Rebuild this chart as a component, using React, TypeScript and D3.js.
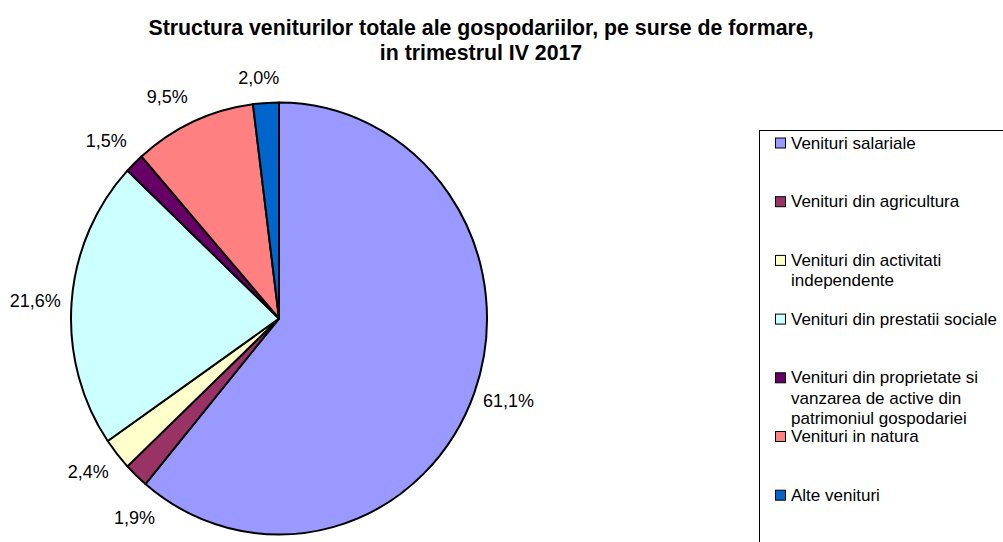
import React, { useEffect } from "react";
import * as d3 from "d3";

const titleLines = [
  "Structura veniturilor totale ale gospodariilor, pe surse de formare,",
  "in trimestrul IV 2017",
];

const categories = [
  "Venituri salariale",
  "Venituri din agricultura",
  "Venituri din activitati independente",
  "Venituri din prestatii sociale",
  "Venituri din proprietate si vanzarea de active din patrimoniul gospodariei",
  "Venituri in natura",
  "Alte venituri",
];

const legendLines = [
  ["Venituri salariale"],
  ["Venituri din agricultura"],
  ["Venituri din activitati", "independente"],
  ["Venituri din prestatii sociale"],
  ["Venituri din proprietate si", "vanzarea de active din", "patrimoniul gospodariei"],
  ["Venituri in natura"],
  ["Alte venituri"],
];

const values = [61.1, 1.9, 2.4, 21.6, 1.5, 9.5, 2.0];

const colors = ["#9999FF", "#993366", "#FFFFCC", "#CCFFFF", "#660066", "#FF8080", "#0066CC"];

// small label nudges (Excel moves some labels to avoid overlaps)
const labelNudge: [number, number][] = [
  [-3, 1],
  [22, 26],
  [-2, 3],
  [3, 1],
  [-4, -6],
  [-12, -4],
  [-5, -2],
];

const W = 1003;
const H = 542;
const cx = 279;
const cy = 318.5;
const ry = 216;
const rx = 208;

export default function App() {
  useEffect(() => {
    document.body.style.margin = "0";
  }, []);

  const pie = d3
    .pie<number>()
    .sort(null)
    .value((d) => d)
    .startAngle(0)
    .endAngle(2 * Math.PI);
  const arcs = pie(values);
  const arc = d3.arc<d3.PieArcDatum<number>>().innerRadius(0).outerRadius(ry);
  const sx = rx / ry;
  const fmt = (v: number) => v.toFixed(1).replace(".", ",") + "%";

  const g = 14;
  const labelFont = 18;

  const legendX = 759;
  const legendY = 130;
  const legendStep = 58.7;
  const legendLineH = 20.5;
  const legendFirst = 143;

  return (
    <svg
      width={W}
      height={H}
      style={{ position: "absolute", left: 0, top: 0, background: "#fff" }}
      fontFamily="'Liberation Sans', Arial, sans-serif"
    >
      <rect x={0} y={0} width={W} height={H} fill="#fff" />
      <g fontWeight="bold" fontSize={21.3} textAnchor="middle" fill="#000">
        {titleLines.map((t, i) => (
          <text key={i} x={481} y={34.5 + i * 25}>
            {t}
          </text>
        ))}
      </g>
      <g transform={`translate(${cx},${cy}) scale(${sx},1)`}>
        {arcs.map((a, i) => (
          <path
            key={i}
            d={arc(a) || ""}
            fill={colors[i]}
            stroke="#000"
            strokeWidth={2}
            vectorEffect="non-scaling-stroke"
            strokeLinejoin="round"
          />
        ))}
      </g>
      <g fontSize={labelFont} fill="#000">
        {arcs.map((a, i) => {
          const th = (a.startAngle + a.endAngle) / 2;
          const s = Math.sin(th);
          const c = Math.cos(th);
          const txt = fmt(values[i]);
          const w = txt.length * 10.2;
          const x = cx + (rx + g) * s + (w / 2) * s + labelNudge[i][0];
          const y = cy - (ry + g) * c - 9 * c + labelNudge[i][1];
          return (
            <text key={i} x={x} y={y} textAnchor="middle" dominantBaseline="central">
              {txt}
            </text>
          );
        })}
      </g>
      <rect
        x={legendX + 0.5}
        y={legendY + 0.5}
        width={W}
        height={H}
        fill="#fff"
        stroke="#000"
        strokeWidth={1}
      />
      <g fontSize={17} fill="#000">
        {legendLines.map((lines, i) => {
          const y0 = legendFirst + i * legendStep;
          return (
            <g key={i}>
              <title>{categories[i]}</title>
              <rect
                x={775.5}
                y={y0 - 5}
                width={10}
                height={10}
                fill={colors[i]}
                stroke="#000"
                strokeWidth={1}
              />
              {lines.map((l, j) => (
                <text key={j} x={791} y={y0 + j * legendLineH} dominantBaseline="central">
                  {l}
                </text>
              ))}
            </g>
          );
        })}
      </g>
    </svg>
  );
}
